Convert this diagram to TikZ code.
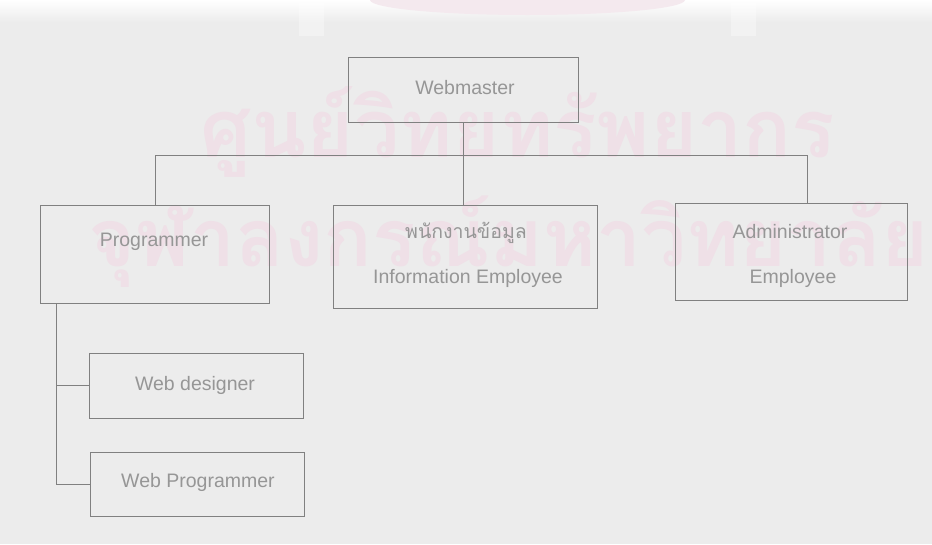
\documentclass[tikz,border=0pt]{standalone}
\usepackage{fontspec}
\usepackage{graphicx}
\setmainfont{Liberation Sans}
\newfontfamily\thaifont[Script=Thai]{Loma}
\definecolor{paper}{RGB}{236,236,236}
\definecolor{rule}{RGB}{128,128,128}
\definecolor{ink}{RGB}{150,150,150}
\definecolor{stamp}{RGB}{239,224,231}
\begin{document}
\begin{tikzpicture}[x=1pt,y=-1pt,
  box/.style={draw=rule, line width=0.9pt, rectangle, inner sep=0pt},
  txt/.style={text=ink, font=\fontsize{19.5}{22}\selectfont, inner sep=0pt},
  conn/.style={draw=rule, line width=0.9pt}]

% paper
\useasboundingbox (0,0) rectangle (932,544);
\fill[paper] (0,0) rectangle (932,544);
\shade[top color=white, bottom color=paper] (0,0) rectangle (932,22);
\fill[stamp!70!white] (370,0) arc[start angle=180, end angle=360, x radius=157.5, y radius=-15] -- cycle;
\fill[white, opacity=0.35] (299,0) rectangle (324,36);
\fill[white, opacity=0.35] (731,0) rectangle (756,36);

% library stamp text
\node[anchor=base west, text=stamp, inner sep=0pt] (stamp1) at (200,157)
  {\resizebox{635pt}{!}{\thaifont\bfseries ศูนย์วิทยทรัพยากร}};
\node[anchor=base west, text=stamp, inner sep=0pt] (stamp2) at (88,266)
  {\resizebox{840pt}{!}{\thaifont\bfseries จุฬาลงกรณ์มหาวิทยาลัย}};

% boxes
\node[box, minimum width=230pt, minimum height=65pt] (wm) at (463,89.5) {};
\node[box, minimum width=229pt, minimum height=98pt] (prog) at (154.5,254) {};
\node[box, minimum width=264pt, minimum height=103pt] (info) at (465,256.5) {};
\node[box, minimum width=232pt, minimum height=97pt] (adm) at (791,251.5) {};
\node[box, minimum width=214pt, minimum height=65pt] (wd) at (196,385.5) {};
\node[box, minimum width=214pt, minimum height=64pt] (wp) at (197,484) {};

% texts
\node[txt] (twm) at (465,88) {Webmaster};
\node[txt] (tprog) at (154,242) {Programmer};
\node[txt] (tinfo1) at (466,233) {\thaifont พนักงานข้อมูล};
\node[txt] (tinfo2) at (468,278) {Information Employee};
\node[txt] (tadm1) at (790,232) {Administrator};
\node[txt] (tadm2) at (793,278) {Employee};
\node[txt] (twd) at (195,385) {Web designer};
\node[txt] (twp) at (198,482) {Web Programmer};

% connectors
\coordinate (bus) at (wm.south |- 0,155);
\coordinate (busL) at (155,155);
\coordinate (busR) at (807,155);
\coordinate (trunk) at (56,0 |- prog.south);
\draw[conn] (wm.south) -- (bus);
\draw[conn] (busL) -- (busR);
\draw[conn] (busL) -- (busL |- prog.north);
\draw[conn] (bus) -- (bus |- info.north);
\draw[conn] (busR) -- (busR |- adm.north);
\draw[conn] (trunk) |- (wd.west);
\draw[conn] (trunk) |- (wp.west);
\end{tikzpicture}
\end{document}
